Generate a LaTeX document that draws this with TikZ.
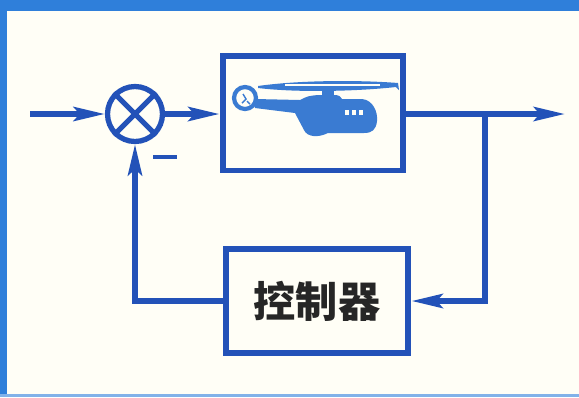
\documentclass[tikz,border=0pt]{standalone}
\usepackage{fontspec}
\newfontfamily\cjk{Noto Sans CJK SC}
\usetikzlibrary{arrows.meta}
\definecolor{lineblue}{HTML}{2352B8}
\definecolor{heliblue}{HTML}{3A7BD2}
\definecolor{rimblue}{HTML}{2F7FDA}
\definecolor{paper}{HTML}{FFFEF6}
\definecolor{ink}{HTML}{262626}

\begin{document}
\begin{tikzpicture}[x=0.02cm, y=-0.02cm]
	\tikzset{block/.style = {shape=rectangle, draw=lineblue, line width=3.4pt, inner sep=0pt},
		wire/.style = {draw=lineblue, line width=3.2pt},
		tip/.style = {-{Stealth[length=0.62cm, width=0.28cm, inset=0.12cm]}}}

	\fill[paper] (0,0) rectangle (579,397);
	\fill[rimblue] (0,0) rectangle (579,11);
	\fill[rimblue] (0,0) rectangle (7,397);
	\fill[rimblue!60] (0,394) rectangle (579,397);
	\useasboundingbox (0,0) rectangle (579,397);

	\node[circle, draw=lineblue, line width=3pt, minimum size=1.1cm] (S) at (135,114) {};
	\node[block, minimum width=3.62cm, minimum height=2.3cm] (P) at (313,113) {};
	\node[block, minimum width=3.66cm, minimum height=2.08cm, text=ink,
		font=\cjk\bfseries\fontsize{24}{24}\selectfont] (K) at (317,301) {控制器};
	\node[fill=lineblue, minimum width=0.5cm, minimum height=0.08cm, inner sep=0pt] (neg) at (165,157) {};

	\coordinate (in) at (30,114);
	\coordinate (out) at (565,114);
	\coordinate (B) at (485,114);

	\draw[lineblue, line width=3pt] (S.north west) -- (S.south east) (S.north east) -- (S.south west);

	\draw[wire, tip] (in) -- (S);
	\draw[wire, tip] (S) -- (S -| P.west);
	\draw[wire, tip] (P.east |- B) -- (out);
	\draw[wire, tip] (B) |- (K);
	\draw[wire, tip] (K) -| (S);

	% helicopter
	\fill[heliblue] (258,86) .. controls (300,80) and (360,80) .. (398,83) -- (399,90) -- (396,87)
		.. controls (360,91) and (300,93) .. (258,88) -- cycle;
	\draw[paper, line width=0.6pt] (285,85) -- (380,85);
	\fill[heliblue] (322,90) rectangle (334,100);
	\fill[heliblue] (255,99) -- (300,100) .. controls (308,96) .. (318,95) -- (336,95)
		.. controls (340,96) .. (342,99) -- (362,99) .. controls (373,100) and (378,112) .. (377,121)
		.. controls (376,130) and (372,133) .. (364,133) -- (328,133)
		.. controls (318,138) and (307,137) .. (304,130) -- (295,113) -- (255,108) -- cycle;
	\filldraw[fill=paper, draw=heliblue, line width=2.4pt] (245,98) circle (0.22cm);
	\draw[heliblue, line width=0.8pt] (243,94) -- (246,99) -- (242,103) (247,101) -- (250,104);
	\foreach \wx in {345,352,359}
		\fill[paper] (\wx,110) rectangle ++(4,5);
\end{tikzpicture}
\end{document}
